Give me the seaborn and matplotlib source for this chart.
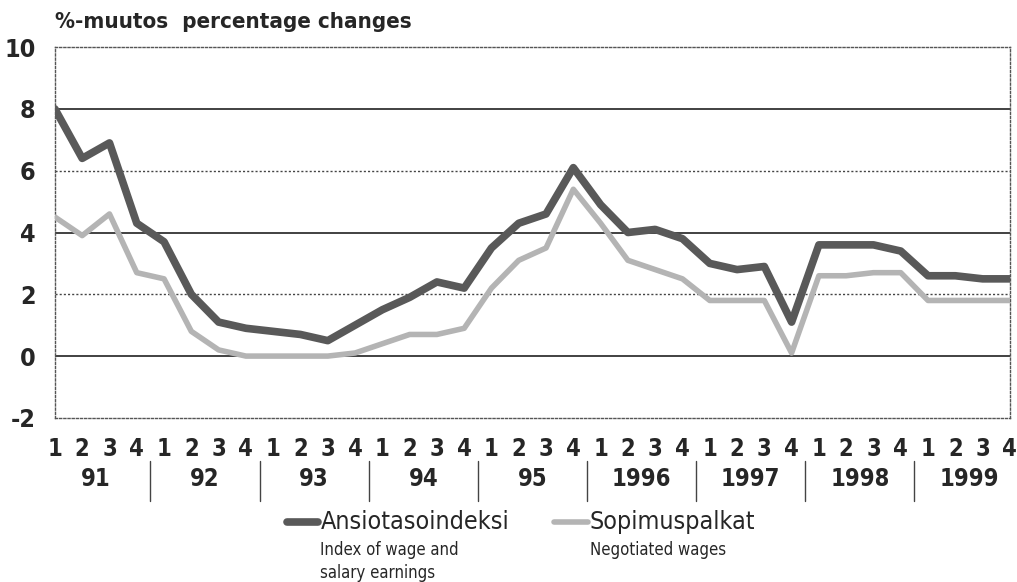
import numpy as np
import pandas as pd
import matplotlib.pyplot as plt
import seaborn as sns
from matplotlib.lines import Line2D

years = ["91", "92", "93", "94", "95", "1996", "1997", "1998", "1999"]
quarters = ["1", "2", "3", "4"]
ansiotaso = [8.0, 6.4, 6.9, 4.3, 3.7, 2.0, 1.1, 0.9,
             0.8, 0.7, 0.5, 1.0, 1.5, 1.9, 2.4, 2.2,
             3.5, 4.3, 4.6, 6.1, 4.9, 4.0, 4.1, 3.8,
             3.0, 2.8, 2.9, 1.1, 3.6, 3.6, 3.6, 3.4,
             2.6, 2.6, 2.5, 2.5]
sopimus = [4.5, 3.9, 4.6, 2.7, 2.5, 0.8, 0.2, 0.0,
           0.0, 0.0, 0.0, 0.1, 0.4, 0.7, 0.7, 0.9,
           2.2, 3.1, 3.5, 5.4, 4.3, 3.1, 2.8, 2.5,
           1.8, 1.8, 1.8, 0.1, 2.6, 2.6, 2.7, 2.7,
           1.8, 1.8, 1.8, 1.8]

sns.set_style("white")
plt.rcParams['font.family'] = ['DejaVu Sans']
plt.rcParams['font.stretch'] = 'condensed'

n = len(ansiotaso)
df = pd.DataFrame({
    "pos": list(range(n)) * 2,
    "value": ansiotaso + sopimus,
    "series": ["Ansiotasoindeksi"] * n + ["Sopimuspalkat"] * n,
})

fig = plt.figure(figsize=(10.17, 5.82), dpi=100)
ax = fig.add_axes([0.054, 0.282, 0.939, 0.637])

# grid lines: solid at 0/4/8, dotted at 2/6
for y in (0, 4, 8):
    ax.axhline(y, color="#333333", lw=1.3, zorder=1)
for y in (2, 6):
    ax.axhline(y, color="#444444", lw=1.0, ls=(0, (1.5, 1.5)), zorder=1)

sns.lineplot(data=df[df.series == "Sopimuspalkat"], x="pos", y="value",
             color="#b4b4b4", lw=4, ax=ax, zorder=3)
sns.lineplot(data=df[df.series == "Ansiotasoindeksi"], x="pos", y="value",
             color="#595959", lw=5.5, ax=ax, zorder=4)

ax.set_xlim(0, n - 1)
ax.set_ylim(-2, 10)
ax.set_yticks([-2, 0, 2, 4, 6, 8, 10])
ax.set_yticklabels(["-2", "0", "2", "4", "6", "8", "10"], fontsize=18, fontweight="bold")
ax.set_xticks(range(n))
ax.set_xticklabels(quarters * len(years), fontsize=17, fontweight="bold")
ax.tick_params(axis="x", direction="in", length=13, width=0.9, color="#333333", pad=14)
ax.tick_params(axis="y", length=0, pad=14)
ax.set_xlabel("")
ax.set_ylabel("")

for side in ("left", "right", "top", "bottom"):
    ax.spines[side].set_visible(True)
    ax.spines[side].set_color("#555555")
    ax.spines[side].set_linewidth(1.0)
    ax.spines[side].set_linestyle((0, (1.5, 1.5)))

# year labels and separators below the quarter numbers
trans = ax.get_xaxis_transform()
for i, yr in enumerate(years):
    ax.text(4 * i + 1.5, -0.165, yr, transform=trans, ha="center", va="center",
            fontsize=17, fontweight="bold")
    if i < len(years) - 1:
        ax.plot([4 * i + 3.5] * 2, [-0.115, -0.225], transform=trans, color="#444444",
                lw=1.0, clip_on=False)

fig.text(0.054, 0.962, "%-muutos  percentage changes", fontsize=16,
         fontweight="bold", va="center", ha="left")

# legend
fig.add_artist(Line2D([0.282, 0.313], [0.103, 0.103], color="#595959", lw=5.5))
fig.text(0.315, 0.103, "Ansiotasoindeksi", fontsize=18, va="center", ha="left")
fig.text(0.315, 0.055, "Index of wage and", fontsize=12, va="center", ha="left")
fig.text(0.315, 0.016, "salary earnings", fontsize=12, va="center", ha="left")
fig.add_artist(Line2D([0.545, 0.578], [0.103, 0.103], color="#b4b4b4", lw=4))
fig.text(0.580, 0.103, "Sopimuspalkat", fontsize=18, va="center", ha="left")
fig.text(0.580, 0.055, "Negotiated wages", fontsize=12, va="center", ha="left")

fig.savefig("out.png", dpi=100)
